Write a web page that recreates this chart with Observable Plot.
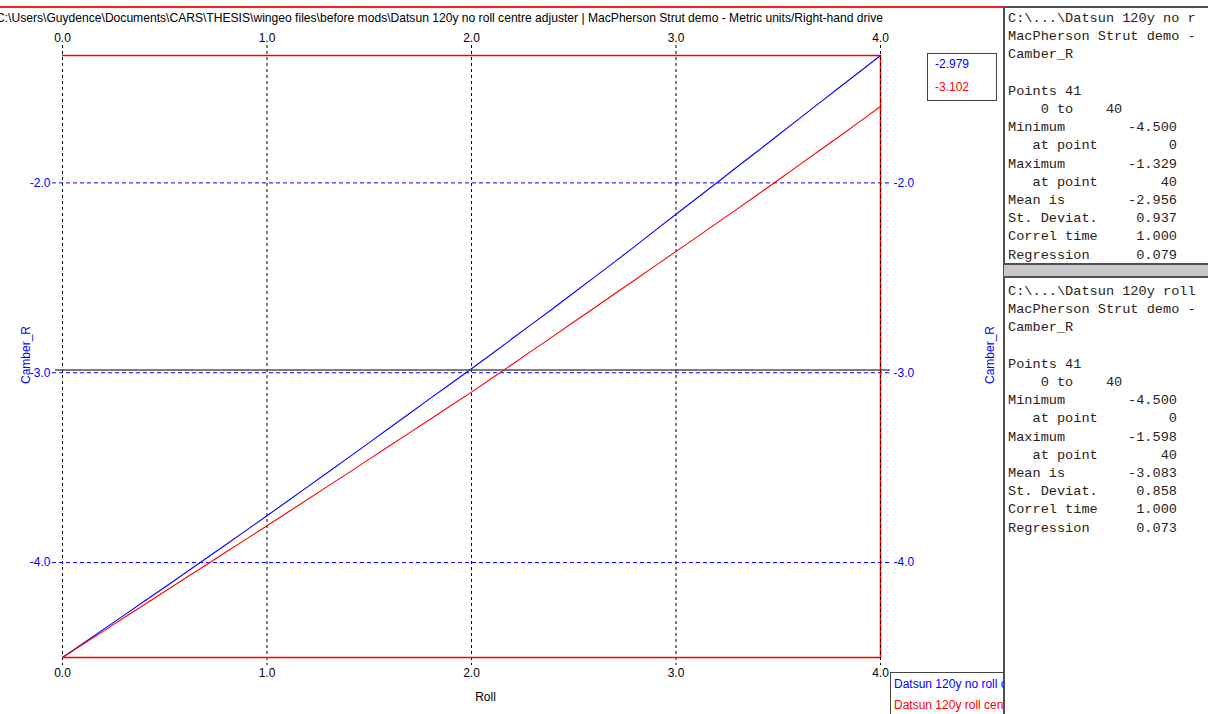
<!DOCTYPE html>
<html><head><meta charset="utf-8">
<script src="https://cdn.jsdelivr.net/npm/d3@7"></script>
<script src="https://cdn.jsdelivr.net/npm/@observablehq/plot@0.6"></script>
<style>
body{margin:0;background:#fff;}
#wrap{position:relative;width:1208px;height:714px;overflow:hidden;background:#fff;}
#wrap svg{position:absolute;left:0;top:0;}
.abs{position:absolute;}
.mono{font-family:"Liberation Mono","Courier New",monospace;font-size:13.6px;color:#2a2218;white-space:pre;line-height:18px;height:18px;}
.sans{font-family:"Liberation Sans",Arial,sans-serif;font-size:12px;white-space:pre;}
.vlab{font-family:"Liberation Sans",Arial,sans-serif;font-size:12px;color:#0000ff;white-space:pre;transform:translate(-50%,-50%) rotate(-90deg);line-height:14px;}
</style></head>
<body><div id="wrap"></div>
<script>
// ---- data ----
const roll = [0.0,0.1,0.2,0.3,0.4,0.5,0.6,0.7,0.8,0.9,1.0,1.1,1.2,1.3,1.4,1.5,1.6,1.7,1.8,1.9,2.0,
              2.1,2.2,2.3,2.4,2.5,2.6,2.7,2.8,2.9,3.0,3.1,3.2,3.3,3.4,3.5,3.6,3.7,3.8,3.9,4.0];
const camberNoRoll = [-4.500,-4.426,-4.352,-4.278,-4.204,-4.130,-4.055,-3.980,-3.905,-3.829,-3.753,
  -3.677,-3.600,-3.523,-3.446,-3.368,-3.290,-3.212,-3.134,-3.057,-2.979,
  -2.900,-2.820,-2.740,-2.660,-2.579,-2.498,-2.416,-2.333,-2.249,-2.165,
  -2.082,-1.999,-1.915,-1.832,-1.748,-1.664,-1.580,-1.496,-1.413,-1.329];
const camberRoll = [-4.500,-4.430,-4.361,-4.291,-4.222,-4.152,-4.083,-4.014,-3.944,-3.875,-3.806,
  -3.736,-3.666,-3.596,-3.526,-3.455,-3.385,-3.314,-3.244,-3.173,-3.102,
  -3.029,-2.955,-2.881,-2.807,-2.733,-2.659,-2.584,-2.510,-2.436,-2.361,
  -2.287,-2.212,-2.137,-2.061,-1.985,-1.908,-1.831,-1.754,-1.676,-1.598];
const seriesNames = ["Datsun 120y no roll centre adjuster","Datsun 120y roll centre adjuster"];
const seriesColors = ["#0000ff","#ff0000"];
const xTicks = [0,1,2,3,4];
const yTicks = [-2,-3,-4];
const yMin = -4.5, yMax = -1.329;
const cursorValues = ["-2.979","-3.102"];
const cursorLevel = -2.986;
const cursorX = 4;
const xLabel = "Roll";
const yLabel = "Camber_R";
const title = "C:\\Users\\Guydence\\Documents\\CARS\\THESIS\\wingeo files\\before mods\\Datsun 120y no roll centre adjuster | MacPherson Strut demo - Metric units/Right-hand drive";
const panelHeaders = [
  ["C:\\...\\Datsun 120y no r","MacPherson Strut demo -","Camber_R"],
  ["C:\\...\\Datsun 120y roll","MacPherson Strut demo -","Camber_R"]
];
const statLabels = ["Minimum","   at point","Maximum","   at point","Mean is","St. Deviat.","Correl time","Regression"];
const statValues = [
  ["-4.500","0","-1.329","40","-2.956","0.937","1.000","0.079"],
  ["-4.500","0","-1.598","40","-3.083","0.858","1.000","0.073"]
];

const rows = roll.flatMap((x,i)=>[
  {x, y: camberNoRoll[i], s: seriesNames[0]},
  {x, y: camberRoll[i], s: seriesNames[1]}
]);

const fmt = d => d.toFixed(1);
const plot = Plot.plot({
  width: 1208, height: 714,
  marginLeft: 62, marginRight: 328, marginTop: 55, marginBottom: 57,
  style: {fontFamily: "'Liberation Sans', Arial, sans-serif", fontSize: "12px", background: "transparent"},
  x: {domain: [0, 4]},
  y: {domain: [yMin, yMax]},
  color: {domain: seriesNames, range: seriesColors},
  marks: [
    Plot.ruleX(xTicks, {stroke: "#000", strokeDasharray: "3,3", insetTop: -10, insetBottom: -8}),
    Plot.ruleY(yTicks, {stroke: "#0000ff", strokeDasharray: "4,3", insetLeft: -10, insetRight: -10}),
    Plot.ruleY([yMin, yMax], {stroke: "#ff0000", strokeWidth: 1.5}),
    Plot.ruleX([cursorX], {stroke: "#ff0000", strokeWidth: 1.5}),
    Plot.ruleX([cursorX], {stroke: "#000", strokeDasharray: "3,3", insetTop: -10, insetBottom: -8}),
    Plot.line(rows, {x: "x", y: "y", z: "s", stroke: "s", strokeWidth: 1.1}),
    Plot.ruleY([cursorLevel], {stroke: "#505050", strokeWidth: 1.5, insetLeft: -7, insetRight: -10}),
    Plot.axisX(xTicks, {anchor: "top", tickSize: 0, tickPadding: 14, tickFormat: fmt, label: null, fill: "#000"}),
    Plot.axisX(xTicks, {anchor: "bottom", tickSize: 0, tickPadding: 11, tickFormat: fmt, label: null, fill: "#000"}),
    Plot.axisY(yTicks, {anchor: "left", tickSize: 0, tickPadding: 12, tickFormat: fmt, label: null, fill: "#0000ff"}),
    Plot.axisY(yTicks, {anchor: "right", tickSize: 0, tickPadding: 13, tickFormat: fmt, label: null, fill: "#0000ff"}),
    Plot.text([xLabel], {frameAnchor: "bottom", dx: 14, dy: 43, fill: "#000"})
  ]
});
const wrap = document.getElementById("wrap");
wrap.appendChild(plot);

function add(txt, css, cls){
  const d = document.createElement("div");
  d.className = "abs " + (cls||"");
  d.style.cssText += css;
  d.textContent = txt;
  wrap.appendChild(d);
  return d;
}
// top red line
add("", "left:0;top:6px;width:1003px;height:0;border-top:2px solid #ff2020;");
// title
add(title, "left:-4px;top:11px;color:#000;font-size:12.1px;", "sans");
// y-axis labels
add(yLabel, "left:26px;top:355px;", "vlab");
add(yLabel, "left:990px;top:355px;", "vlab");
// cursor value box
add("", "left:927px;top:53px;width:70px;height:48px;border:1px solid #444;box-sizing:border-box;");
add(cursorValues[0], "left:935px;top:57px;color:#0000ff;", "sans");
add(cursorValues[1], "left:935px;top:80px;color:#ff0000;", "sans");
// right panel
add("", "left:1003px;top:6px;width:205px;height:708px;border-left:2px solid #505050;border-top:2px solid #505050;box-sizing:border-box;");
add("", "left:1004px;top:263px;width:204px;height:15px;background:#c8c8c8;border-top:2px solid #505050;border-bottom:2px solid #505050;box-sizing:border-box;");
[19, 292].forEach((c0, p) => {
  const lines = [...panelHeaders[p], "", "Points 41", "    0 to    40"];
  lines.forEach((t, i) => add(t, `left:1008px;top:${c0 + 18.2*i - 9}px;`, "mono"));
  statLabels.forEach((t, j) => {
    const top = c0 + 18.2*(j+6) - 9;
    add(t, `left:1008px;top:${top}px;`, "mono");
    add(statValues[p][j], `right:31px;top:${top}px;text-align:right;`, "mono");
  });
});
// legend box
const lg = document.createElement("div");
lg.className = "abs";
lg.style.cssText = "left:890px;top:672px;width:113px;height:50px;border-left:1px solid #444;border-top:1px solid #444;overflow:hidden;";
wrap.appendChild(lg);
seriesNames.forEach((n, i) => {
  const d = document.createElement("div");
  d.className = "abs sans";
  d.style.cssText = `left:3px;top:${4 + 21*i}px;color:${seriesColors[i]};`;
  d.textContent = n;
  lg.appendChild(d);
});
</script></body></html>
